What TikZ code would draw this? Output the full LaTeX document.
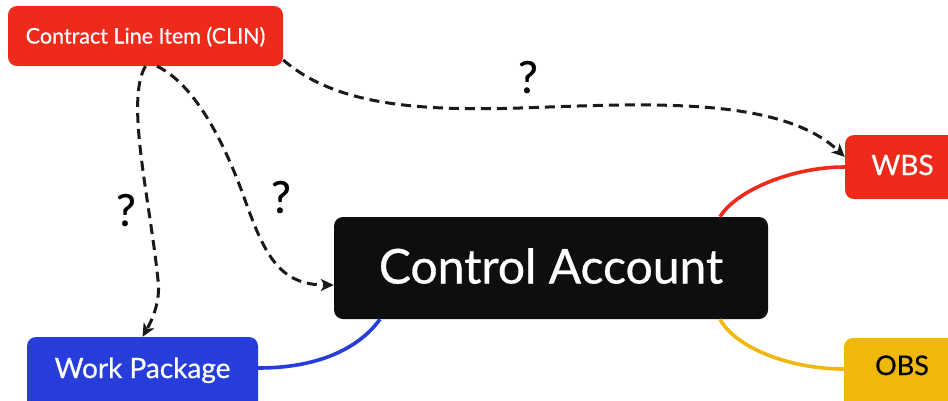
\documentclass[tikz,border=0pt]{standalone}
\usepackage{fontspec}
\setmainfont{Lato}
\newfontfamily\lblfont[FakeBold=0.6]{Lato}
\usetikzlibrary{arrows.meta}
\definecolor{cred}{HTML}{EE2A1B}
\definecolor{cblue}{HTML}{263DDB}
\definecolor{cyellow}{HTML}{F0B80A}
\definecolor{cblack}{HTML}{0E0E0E}
\definecolor{cdash}{HTML}{1A1A1A}
\begin{document}
\begin{tikzpicture}[x=1pt,y=-1pt,
  box/.style={rounded corners=9pt, inner sep=0pt, text=white, align=center},
  link/.style={line width=3.6pt},
  dlink/.style={line width=3pt, color=cdash, dash pattern=on 10pt off 6pt,
    -{Stealth[length=13pt,width=12pt,inset=3.5pt]}},
  qmark/.style={font=\lblfont\fontsize{44}{48}\selectfont, text=black, inner sep=0pt}]
\useasboundingbox (0,0) rectangle (948,400);
\clip (0,0) rectangle (948,400);
\fill[white] (0,0) rectangle (948,400);

\node[box, fill=cred, minimum width=275pt, minimum height=60pt,
  font=\lblfont\fontsize{21.5}{24}\selectfont, text height=15pt, text depth=0pt]
  (clin) at (145.5,36) {Contract Line Item (CLIN)};
\node[box, fill=cred, minimum width=115pt, minimum height=64pt,
  font=\lblfont\fontsize{28}{32}\selectfont, text height=20pt, text depth=4pt]
  (wbs) at (902.5,167) {WBS};
\node[box, fill=cyellow, text=black, minimum width=116pt, minimum height=72pt,
  font=\lblfont\fontsize{27}{32}\selectfont, text height=20pt, text depth=18pt]
  (obs) at (902,374) {OBS};
\node[box, fill=cblue, minimum width=231pt, minimum height=73pt,
  font=\lblfont\fontsize{28}{32}\selectfont, text height=20pt, text depth=11pt]
  (wp) at (142.5,373.5) {Work Package};
\node[box, fill=cblack, minimum width=434pt, minimum height=102pt,
  font=\lblfont\fontsize{48}{52}\selectfont, text height=34pt, text depth=3pt]
  (ca) at (551,268) {Control Account};

\draw[link, cblue] ([yshift=5.5pt]wp.east) .. controls +(72,0) and +(-15,21) .. ([xshift=-171pt]ca.south);
\draw[link, cred] ([xshift=169pt]ca.north) .. controls +(15,-25) and +(-55,0) .. (wbs.west);
\draw[link, cyellow] ([xshift=169pt]ca.south) .. controls +(15,28) and +(-55,0) .. ([yshift=5pt]obs.west);

\draw[dlink] (clin.south) .. controls (125,100) and (150,200) .. (158,280)
  .. controls (161,302) and (151,322) .. (wp.north);
\draw[dlink] ([xshift=11.5pt]clin.south) .. controls (190,82) and (220,130) .. (245,200)
  .. controls (265,256) and (280,285) .. ([yshift=-17pt]ca.west);
\draw[dlink] ([yshift=-24pt]clin.east) .. controls (330,100) and (400,112) .. (520,108)
  .. controls (640,104) and (780,95) .. ([yshift=10pt]wbs.west);

\node[qmark] (q1) at (126,210) {?};
\node[qmark] (q2) at (281,197) {?};
\node[qmark] (q3) at (528,77) {?};
\end{tikzpicture}
\end{document}
